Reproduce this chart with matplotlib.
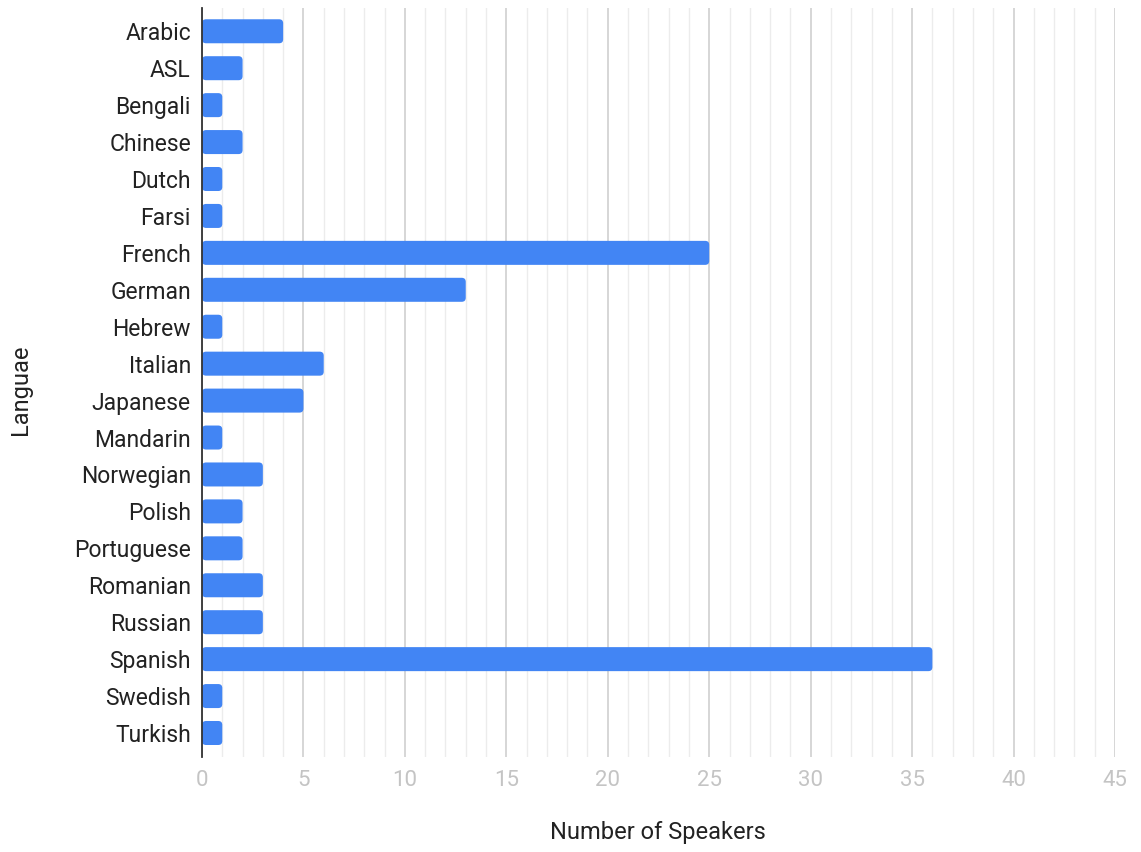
import numpy as np
import matplotlib
matplotlib.use('Agg')
import matplotlib.pyplot as plt
from matplotlib.patches import FancyBboxPatch
from matplotlib.ticker import MultipleLocator

plt.rcParams.update({'font.family': ['Roboto', 'DejaVu Sans']})

languages = ['Arabic', 'ASL', 'Bengali', 'Chinese', 'Dutch', 'Farsi', 'French',
             'German', 'Hebrew', 'Italian', 'Japanese', 'Mandarin', 'Norwegian',
             'Polish', 'Portuguese', 'Romanian', 'Russian', 'Spanish', 'Swedish',
             'Turkish']
speakers = [4, 2, 1, 2, 1, 1, 25, 13, 1, 6, 5, 1, 3, 2, 2, 3, 3, 36, 1, 1]

fig = plt.figure(figsize=(11.41, 8.52), dpi=100)
ax = fig.add_axes([202/1141, 1 - 757/852, (1115-202)/1141, (757-8)/852])

y = np.arange(len(languages))
bars = ax.barh(y, speakers, height=0.65, color='#4285f4', zorder=3)
# swap plain rectangles for slightly rounded ones, like the sheets chart
for b in bars:
    rb = FancyBboxPatch((b.get_x(), b.get_y()), b.get_width(), b.get_height(),
                        boxstyle='round,pad=0,rounding_size=0.2', mutation_aspect=0.54,
                        facecolor='#4285f4', edgecolor='none', zorder=3)
    ax.add_patch(rb)
    b.set_visible(False)

ax.set_xlim(0, 45)
ax.set_ylim(len(languages) - 0.35, -0.63)
ax.set_yticks(y)
ax.set_yticklabels(languages, fontsize=16.5, color='#222222')
ax.xaxis.set_major_locator(MultipleLocator(5))
ax.xaxis.set_minor_locator(MultipleLocator(1))
ax.tick_params(axis='x', which='both', length=0, labelsize=16, labelcolor='#c4c4c4', pad=9)
ax.tick_params(axis='y', length=0, pad=8)

ax.grid(axis='x', which='major', color='#d0d0d0', linewidth=1.2, zorder=0)
ax.grid(axis='x', which='minor', color='#ececec', linewidth=1.0, zorder=0)
for s in ['top', 'right', 'bottom']:
    ax.spines[s].set_visible(False)
ax.spines['left'].set_color('#333333')
ax.spines['left'].set_linewidth(1.3)
ax.spines['left'].set_zorder(4)

fig.text(658/1141, 1 - 833/852, 'Number of Speakers', fontsize=17, color='#222222',
         ha='center', va='center')
fig.text(20/1141, 1 - 390/852, 'Languae', fontsize=17, color='#222222',
         ha='center', va='center', rotation=90)

fig.savefig('out.png', dpi=100)
plt.close(fig)
